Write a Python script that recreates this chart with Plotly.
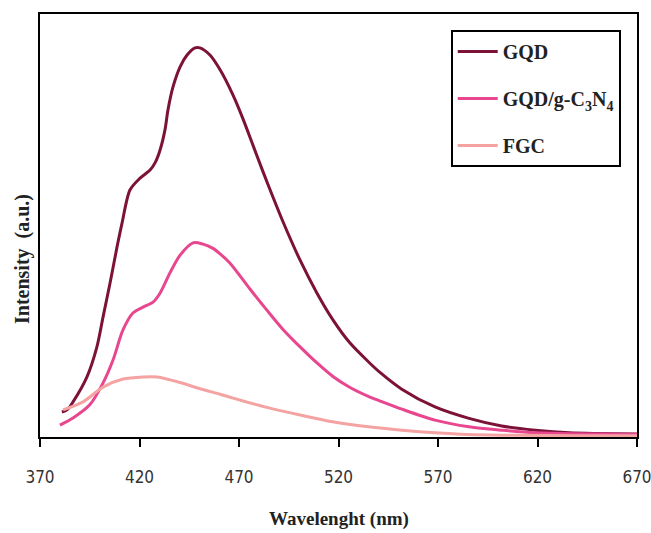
import plotly.graph_objects as go

# ---- data ----
gqd_wl = [381, 383.6, 386.6, 393.6, 398.6, 401.7, 405.2, 408.7, 411.2, 415.2, 420.3,
          425.3, 427.8, 430.3, 432.8, 434.3, 436.8, 440.4, 443.9, 447.9, 450.4, 455.4,
          460.5, 467, 472, 477, 482, 487, 492, 500.7, 509.2, 517.2, 525.8, 535, 541,
          551.8, 568.5, 585.6, 602, 619, 636, 670]
gqd_int = [0.059, 0.064, 0.083, 0.142, 0.213, 0.284, 0.364, 0.449, 0.505, 0.584, 0.612,
           0.631, 0.648, 0.678, 0.726, 0.773, 0.827, 0.875, 0.903, 0.920, 0.920, 0.903,
           0.868, 0.808, 0.752, 0.690, 0.628, 0.568, 0.510, 0.418, 0.340, 0.277, 0.222,
           0.178, 0.152, 0.113, 0.071, 0.044, 0.026, 0.016, 0.010, 0.007]

gcn_wl = [380, 386.6, 395, 401.7, 406.7, 411.7, 416.7, 421.8, 426.8, 430.3, 435.3,
          440.4, 446.9, 451.9, 456.9, 460.5, 465.5, 475.5, 484, 492, 500.7, 509.2,
          517.2, 525.8, 535, 541, 551.8, 568.5, 585.6, 602, 619, 670]
gcn_int = [0.028, 0.045, 0.076, 0.128, 0.182, 0.253, 0.293, 0.307, 0.319, 0.340, 0.388,
           0.430, 0.459, 0.456, 0.446, 0.433, 0.411, 0.350, 0.300, 0.255, 0.213, 0.175,
           0.143, 0.117, 0.096, 0.085, 0.066, 0.040, 0.024, 0.016, 0.010, 0.006]

fgc_wl = [381.6, 391.6, 401.7, 411.7, 421.8, 428.8, 440.4, 450.4, 460.5, 467, 484,
          500.7, 517, 535, 552, 568.5, 585, 610, 640, 670]
fgc_int = [0.064, 0.083, 0.118, 0.137, 0.142, 0.142, 0.129, 0.114, 0.101, 0.092, 0.070,
           0.052, 0.036, 0.024, 0.016, 0.010, 0.006, 0.004, 0.003, 0.003]

series_names = ["GQD", "GQD/g-C<sub>3</sub>N<sub>4</sub>", "FGC"]
series_colors = ["#7d1239", "#e8468e", "#f4a2a2"]
x_ticks = [370, 420, 470, 520, 570, 620, 670]

fig = go.Figure()
for i, (wl, it) in enumerate([(gqd_wl, gqd_int), (gcn_wl, gcn_int), (fgc_wl, fgc_int)]):
    fig.add_trace(go.Scatter(
        x=wl, y=it, mode="lines", name=series_names[i], legendgroup=str(i),
        line=dict(color=series_colors[i], width=3, shape="spline", smoothing=0.8),
    ))

serif = "Liberation Serif, Times New Roman, serif"
fig.update_layout(
    width=651, height=533,
    margin=dict(l=40, r=14, t=14, b=96),
    paper_bgcolor="white", plot_bgcolor="white",
    showlegend=True,
    legend=dict(
        x=0.688, y=0.962, xanchor="left", yanchor="top",
        bordercolor="black", borderwidth=2, bgcolor="white",
        font=dict(family=serif, size=20, color="#222", weight="bold"),
        tracegroupgap=18, itemwidth=40,
    ),
    xaxis=dict(
        range=[370, 670], tickvals=x_ticks, ticktext=[str(t) for t in x_ticks],
        showline=True, linecolor="black", linewidth=2, mirror=True,
        ticks="outside", ticklen=8, tickcolor="black", tickwidth=1.5,
        showgrid=False, zeroline=False, automargin=False,
        tickfont=dict(family="DejaVu Sans Condensed, Liberation Sans Narrow, sans-serif",
                      size=17, color="#333"),
        ticklabelstandoff=16, ticklabeloverflow="allow",
    ),
    yaxis=dict(
        range=[0, 1], showticklabels=False, ticks="",
        showline=True, linecolor="black", linewidth=1.5, mirror=True,
        showgrid=False, zeroline=False, automargin=False,
    ),
    annotations=[
        dict(text="Wavelenght (nm)", xref="paper", yref="paper", x=0.5, y=-0.195,
             xanchor="center", yanchor="middle", showarrow=False,
             font=dict(family=serif, size=19, color="#222", weight="bold")),
        dict(text="Intensity  (a.u.)", xref="paper", yref="paper", x=-0.029, y=0.42,
             xanchor="center", yanchor="middle", showarrow=False, textangle=-90,
             font=dict(family=serif, size=20, color="#222", weight="bold")),
    ],
)

fig.write_html("out.html")
